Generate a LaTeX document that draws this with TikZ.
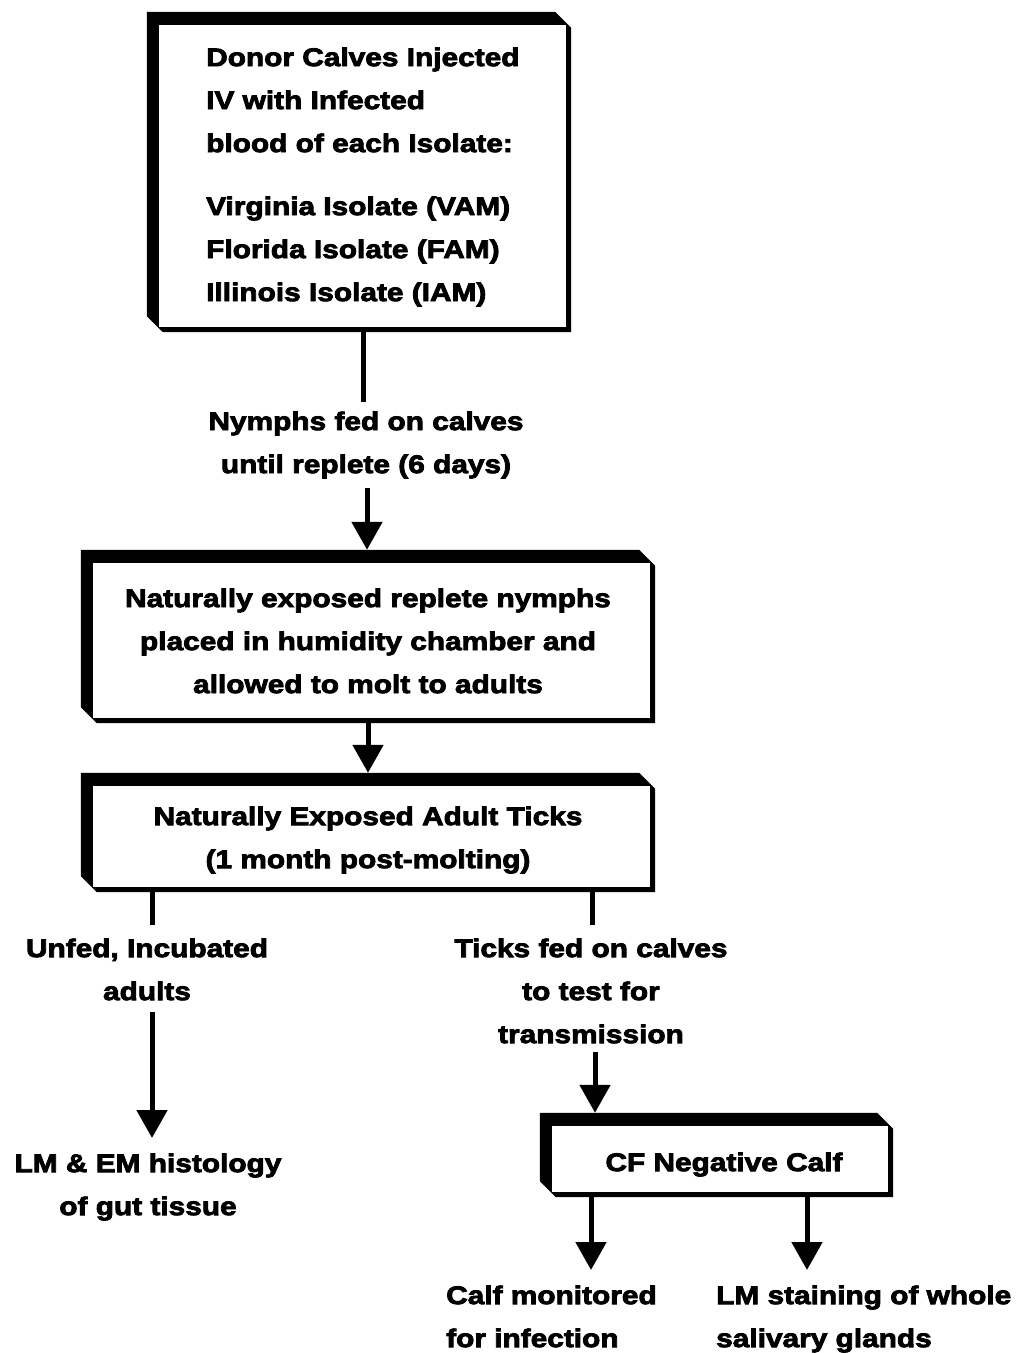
\documentclass[tikz,border=0pt]{standalone}
\usepackage{fontspec}
\setmainfont{Liberation Sans}[BoldFeatures={FakeStretch=1.17,FakeBold=3.2}]
\usetikzlibrary{arrows.meta,calc,backgrounds}
\tikzset{
  frm/.style={rectangle,draw=none,inner sep=0pt},
  txt/.style={inner sep=0pt,align=center,font=\fontsize{25.5}{43}\selectfont\bfseries},
  ln/.style={line width=5pt},
  arr/.style={line width=5pt,-{Triangle[length=28pt,width=30pt]}}
}
\newcommand\bevelframe[1]{%
  \fill[black] (#1.north west) -- ($(#1.north east)+(-16,0)$) -- ($(#1.north east)+(0,16)$)
     -- (#1.south east) -- ($(#1.south west)+(16,0)$) -- ($(#1.south west)+(0,-16)$) -- cycle;
  \fill[white] ($(#1.north west)+(12,13)$) rectangle ($(#1.south east)+(-5,-5)$);}
\begin{document}
\begin{tikzpicture}[x=1pt,y=-1pt]
\useasboundingbox (0,0) rectangle (1022,1353);

% boxes
\node[frm,minimum width=424pt,minimum height=320pt] (b1) at (359,172) {};
\node[frm,minimum width=574pt,minimum height=173pt] (b2) at (368,636.5) {};
\node[frm,minimum width=574pt,minimum height=119pt] (b3) at (368,832.5) {};
\node[frm,minimum width=353pt,minimum height=84pt] (b4) at (716.5,1155) {};
\begin{scope}[on background layer]
  \fill[white] (0,0) rectangle (1022,1353);
  \bevelframe{b1}
  \bevelframe{b2}
  \bevelframe{b3}
  \bevelframe{b4}
\end{scope}

% texts
\node[txt,align=left,anchor=north west] (t1) at (206,47.4)
  {Donor Calves Injected\\IV with Infected\\blood of each Isolate:\\[20pt]
   Virginia Isolate (VAM)\\Florida Isolate (FAM)\\Illinois Isolate (IAM)};
\node[txt,anchor=north] (t2) at (366,411.4) {Nymphs fed on calves\\until replete (6 days)};
\node[txt,anchor=north] (t3) at (368,588.4)
  {Naturally exposed replete nymphs\\placed in humidity chamber and\\allowed to molt to adults};
\node[txt,anchor=north] (t4) at (368,806.4) {Naturally Exposed Adult Ticks\\(1 month post-molting)};
\node[txt,anchor=north] (t5) at (147,938.4) {Unfed, Incubated\\adults};
\node[txt,anchor=north] (t6) at (591,938.4) {Ticks fed on calves\\to test for\\transmission};
\node[txt,anchor=north] (t7) at (148,1153.4) {LM \& EM histology\\of gut tissue};
\node[txt,anchor=north] (t8) at (724,1152.4) {CF Negative Calf};
\node[txt,align=left,anchor=north west] (t9) at (446,1285.4) {Calf monitored\\for infection};
\node[txt,align=left,anchor=north west] (t10) at (716,1285.4) {LM staining of whole\\salivary glands};

% connectors
\coordinate (c1) at (363,402);
\draw[ln] (c1 |- b1.south) -- (c1);
\coordinate (c2) at (367,488);
\draw[arr] (c2) -- (c2 |- b2.north);
\draw[arr] (b2.south) -- (b2.south |- b3.north);
\coordinate (c4) at (152,925);
\draw[ln] (c4 |- b3.south) -- (c4);
\coordinate (c5) at (592,925);
\draw[ln] (c5 |- b3.south) -- (c5);
\coordinate (c6a) at (152,1012);
\coordinate (c6b) at (152,1138);
\draw[arr] (c6a) -- (c6b);
\coordinate (c7) at (595,1052);
\draw[arr] (c7) -- (c7 |- b4.north);
\coordinate (c8) at (591,1270);
\draw[arr] (c8 |- b4.south) -- (c8);
\coordinate (c9) at (807,1270);
\draw[arr] (c9 |- b4.south) -- (c9);
\end{tikzpicture}
\end{document}
